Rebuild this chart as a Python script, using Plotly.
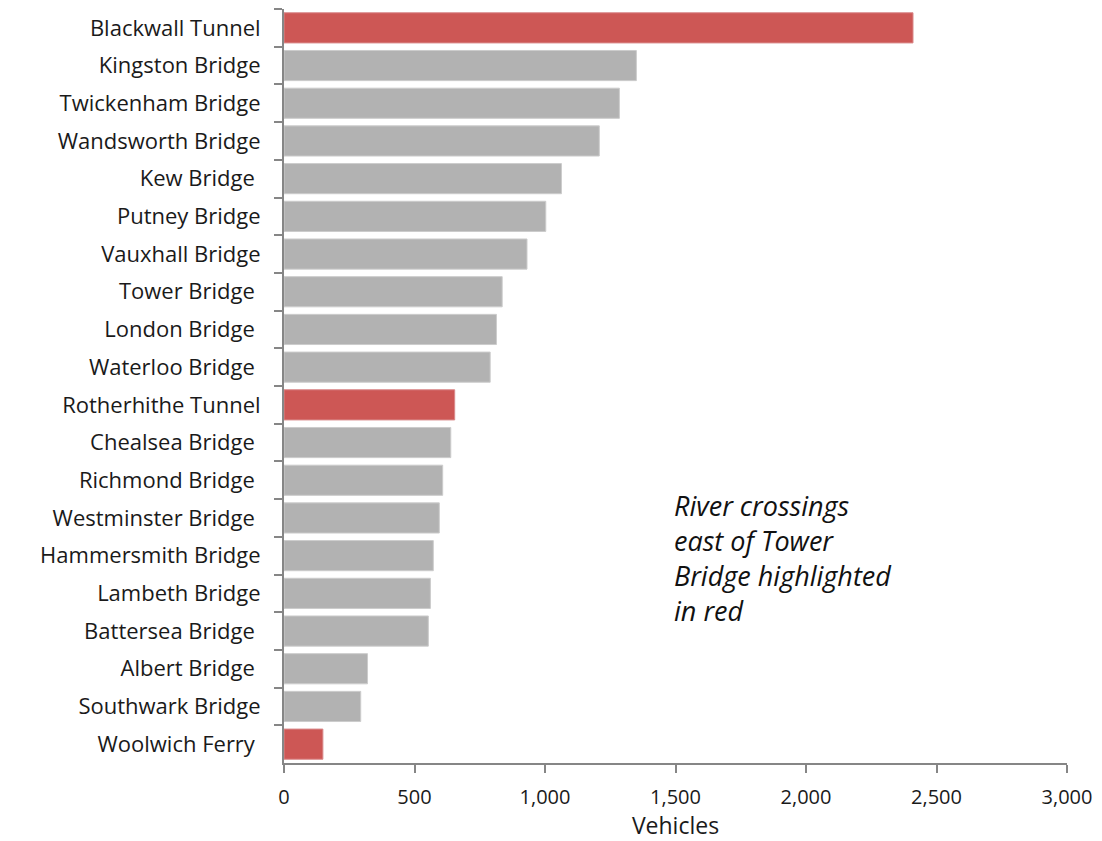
import plotly.graph_objects as go

# Daily vehicle counts at Thames river crossings
crossings = [
    "Blackwall Tunnel", "Kingston Bridge", "Twickenham Bridge", "Wandsworth Bridge",
    "Kew Bridge\u00a0", "Putney Bridge", "Vauxhall Bridge", "Tower Bridge\u00a0",
    "London Bridge\u00a0", "Waterloo Bridge\u00a0", "Rotherhithe Tunnel", "Chealsea Bridge\u00a0",
    "Richmond Bridge\u00a0", "Westminster Bridge\u00a0", "Hammersmith Bridge", "Lambeth Bridge",
    "Battersea Bridge\u00a0", "Albert Bridge\u00a0", "Southwark Bridge", "Woolwich Ferry\u00a0",
]
vehicles = [
    2410, 1350, 1285, 1208, 1063, 1003, 931, 836, 814, 790,
    654, 639, 608, 595, 572, 561, 553, 320, 294, 149,
]
east_of_tower = [
    True, False, False, False, False, False, False, False, False, False,
    True, False, False, False, False, False, False, False, False, True,
]
x_ticks = [0, 500, 1000, 1500, 2000, 2500, 3000]
x_tick_text = ["0", "500", "1,000", "1,500", "2,000", "2,500", "3,000"]

RED = "#cd5755"
GREY = "#b2b2b2"
fill = [RED if e else GREY for e in east_of_tower]
edge = ["#d9898a" if e else "#cccccc" for e in east_of_tower]

fig = go.Figure(go.Bar(
    x=vehicles, y=crossings, orientation="h",
    marker=dict(color=fill, line=dict(color=edge, width=1)),
    hoverinfo="x+y",
))

font_family = "'Open Sans', 'Noto Sans', sans-serif"

fig.update_layout(
    width=1102, height=841,
    margin=dict(l=284, r=35, t=9, b=78),
    paper_bgcolor="white", plot_bgcolor="white",
    bargap=0.2,
    showlegend=False,
    font=dict(family=font_family, color="#1a1a1a"),
    xaxis=dict(
        range=[0, 3000], tickvals=x_ticks, ticktext=x_tick_text,
        showgrid=False, zeroline=False,
        showline=True, linecolor="#868686", linewidth=2,
        ticks="outside", ticklen=8, tickwidth=2, tickcolor="#868686",
        tickfont=dict(size=20, color="#1a1a1a"),
        ticklabelstandoff=7,
        automargin=False,
        title=dict(text="Vehicles", font=dict(size=23, color="#1a1a1a"), standoff=12),
    ),
    yaxis=dict(
        categoryorder="array", categoryarray=crossings, autorange="reversed",
        showgrid=False, zeroline=False,
        showline=True, linecolor="#868686", linewidth=2,
        ticks="outside", ticklen=8, tickwidth=2, tickcolor="#868686",
        tickson="boundaries",
        ticklabelstandoff=17,
        automargin=False,
        tickfont=dict(size=22, color="#1a1a1a"),
    ),
    annotations=[dict(
        x=1488, y=12.12, xref="x", yref="y",
        xanchor="left", yanchor="top", align="left",
        text="<i>River crossings<br>east of Tower<br>Bridge highlighted<br>in red</i>",
        showarrow=False,
        font=dict(size=27, color="#111111", family=font_family),
    )],
)

fig.write_html("out.html")
